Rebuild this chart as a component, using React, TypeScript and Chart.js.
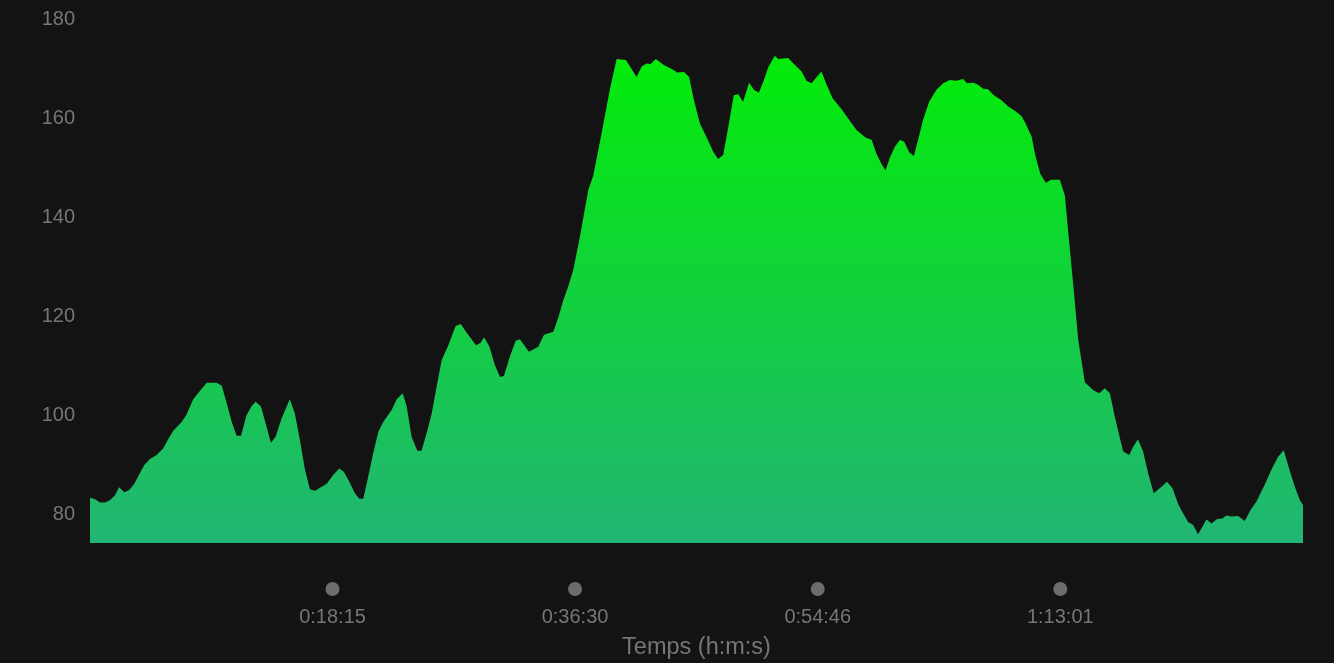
import React, { useEffect, useRef } from "react";
import { Chart, registerables } from "chart.js";

Chart.register(...registerables);

// elapsed time in seconds
const timeSec: number[] = [
  0, 23, 45, 68, 90, 113, 131, 155, 176, 200, 221, 245, 271, 301, 331, 353, 376, 414, 437, 466,
  497, 527, 572, 595, 617, 640, 662, 682, 707, 730, 748, 772, 795, 817, 838, 865, 902, 925, 948, 971,
  993, 1016, 1046, 1069, 1098, 1125, 1147, 1171, 1196, 1216, 1234, 1256, 1279, 1302, 1324, 1362, 1385, 1412, 1430, 1452,
  1478, 1497, 1520, 1543, 1565, 1588, 1618, 1651, 1674, 1701, 1743, 1764, 1779, 1803, 1828, 1851, 1869, 1896, 1922, 1941,
  1982, 2024, 2050, 2092, 2114, 2137, 2159, 2182, 2212, 2250, 2272, 2310, 2347, 2378, 2420, 2468, 2491, 2513, 2531, 2555,
  2591, 2631, 2651, 2682, 2705, 2727, 2754, 2784, 2814, 2836, 2859, 2882, 2907, 2927, 2949, 2976, 2998, 3020, 3043, 3062,
  3092, 3107, 3152, 3183, 3213, 3235, 3258, 3281, 3303, 3326, 3353, 3393, 3428, 3461, 3503, 3529, 3551, 3574, 3592, 3611,
  3634, 3657, 3676, 3699, 3720, 3739, 3762, 3789, 3822, 3852, 3882, 3913, 3942, 3960, 3988, 4010, 4033, 4055, 4081, 4116,
  4146, 4171, 4206, 4221, 4252, 4268, 4291, 4316, 4339, 4379, 4402, 4417, 4439, 4462, 4492, 4530, 4557, 4582, 4605, 4627,
  4665, 4692, 4710, 4732, 4755, 4778, 4803, 4838, 4863, 4888, 4913, 4936, 4958, 4981, 5003, 5023, 5041, 5064, 5089, 5113,
  5131, 5154, 5184, 5214, 5240, 5267, 5304, 5335, 5364, 5390, 5414, 5440, 5463, 5477,
];

// heart rate (bpm)
const heartRate: number[] = [
  83.3, 83.0, 82.3, 82.3, 82.8, 83.8, 85.4, 84.4, 84.8, 86.1, 87.9, 89.9, 91.1, 91.9, 93.3, 95.1, 96.8, 98.6, 100.2, 103.2,
  104.9, 106.5, 106.5, 105.9, 102.4, 98.6, 95.8, 95.8, 100.0, 101.8, 102.7, 101.7, 98.0, 94.4, 95.6, 99.3, 103.2, 100.3, 94.9, 88.9,
  85.0, 84.7, 85.5, 86.1, 87.9, 89.2, 88.5, 86.5, 84.2, 83.1, 83.1, 87.5, 92.3, 96.6, 98.6, 101.0, 103.2, 104.4, 101.7, 95.6,
  92.8, 92.8, 96.3, 100.3, 105.7, 111.1, 114.1, 118.0, 118.4, 116.6, 114.1, 114.6, 115.7, 113.9, 110.1, 107.7, 107.9, 111.8, 115.0, 115.3,
  112.8, 113.8, 116.2, 116.8, 119.6, 123.2, 125.9, 129.3, 136.0, 145.5, 148.3, 156.9, 165.7, 171.9, 171.7, 168.3, 170.4, 171.0, 170.9, 171.9,
  170.7, 169.8, 169.2, 169.3, 168.3, 163.6, 158.9, 156.1, 153.2, 151.7, 152.5, 158.2, 164.6, 164.8, 163.3, 167.1, 165.7, 165.1, 167.7, 170.2,
  172.6, 171.9, 172.1, 170.7, 169.4, 167.5, 167.0, 168.3, 169.4, 166.7, 164.0, 161.8, 159.6, 157.6, 156.0, 155.6, 152.8, 150.7, 149.4, 151.9,
  154.2, 155.6, 155.2, 153.1, 152.3, 155.6, 159.7, 163.3, 165.7, 167.0, 167.7, 167.5, 167.9, 167.0, 167.1, 166.7, 165.9, 165.8, 164.6, 163.6,
  162.3, 161.6, 160.4, 159.2, 156.2, 152.5, 148.7, 146.9, 147.5, 147.5, 144.3, 136.9, 126.6, 115.2, 106.6, 105.0, 104.4, 105.4, 104.4, 99.7,
  92.6, 91.9, 93.6, 95.1, 92.6, 88.2, 84.2, 85.5, 86.5, 85.2, 82.0, 80.1, 78.4, 77.8, 75.9, 77.4, 78.9, 78.1, 79.0, 79.1,
  79.7, 79.5, 79.6, 78.6, 80.8, 82.5, 85.9, 89.0, 91.5, 92.9, 89.2, 85.5, 82.8, 81.8,
];

const xTickSeconds: number[] = [1095, 2190, 3286, 4381];
const yTickValues: number[] = [80, 100, 120, 140, 160, 180];
const xTitle = "Temps (h:m:s)";

const FONT = "'Liberation Sans', Arial, Helvetica, sans-serif";
const TEXT = "#767676";
const DOT = "#6c6c6c";

function fmtTime(s: number): string {
  const h = Math.floor(s / 3600);
  const m = Math.floor((s % 3600) / 60);
  const sec = Math.round(s % 60);
  return `${h}:${String(m).padStart(2, "0")}:${String(sec).padStart(2, "0")}`;
}

const dotPlugin = {
  id: "tickDots",
  afterDraw(chart: any) {
    const xs = chart.scales.x;
    const c = chart.ctx;
    c.save();
    c.fillStyle = DOT;
    for (const t of xs.ticks) {
      const px = xs.getPixelForValue(t.value);
      c.beginPath();
      c.arc(px, chart.chartArea.bottom + 46, 7, 0, Math.PI * 2);
      c.fill();
    }
    c.restore();
  },
};

export default function App() {
  const ref = useRef<HTMLCanvasElement | null>(null);
  useEffect(() => {
    if (!ref.current) return;
    const chart = new Chart(ref.current, {
      type: "line",
      data: {
        datasets: [
          {
            data: timeSec.map((t, i) => ({ x: t, y: heartRate[i] })),
            fill: "start",
            borderWidth: 0,
            borderColor: "rgba(0,0,0,0)",
            pointRadius: 0,
            tension: 0,
            backgroundColor: (ctx: any) => {
              const { chart } = ctx;
              const area = chart.chartArea;
              if (!area) return "#10cc40";
              const g = chart.ctx.createLinearGradient(0, area.top, 0, area.bottom);
              g.addColorStop(0, "#00f000");
              g.addColorStop(1, "#22b574");
              return g;
            },
          },
        ],
      },
      options: {
        animation: false,
        responsive: true,
        maintainAspectRatio: false,
        layout: { padding: { top: 19, right: 31, left: 0, bottom: 0 } },
        plugins: { legend: { display: false }, tooltip: { enabled: false } },
        scales: {
          x: {
            type: "linear",
            min: 0,
            max: 5477,
            grid: { display: false, drawTicks: false },
            border: { display: false },
            afterBuildTicks: (scale: any) => {
              scale.ticks = xTickSeconds.map((v) => ({ value: v }));
            },
            afterFit: (scale: any) => {
              scale.height = 120;
              scale.paddingLeft = 0;
              scale.paddingRight = 0;
            },
            ticks: {
              color: TEXT,
              font: { family: FONT, size: 20 },
              padding: 62,
              maxRotation: 0,
              callback: (v: any) => fmtTime(Number(v)),
            },
            title: {
              display: true,
              text: xTitle,
              color: TEXT,
              font: { family: FONT, size: 23.5 },
              padding: { top: 0, bottom: 1 },
            },
          },
          y: {
            min: 74.14,
            max: 180,
            grid: { display: false, drawTicks: false },
            border: { display: false },
            afterBuildTicks: (scale: any) => {
              scale.ticks = yTickValues.map((v) => ({ value: v }));
            },
            afterFit: (scale: any) => {
              scale.width = 90;
              scale.paddingTop = 0;
              scale.paddingBottom = 0;
            },
            ticks: {
              color: TEXT,
              font: { family: FONT, size: 20 },
              padding: 15,
            },
          },
        },
      },
      plugins: [dotPlugin],
    });
    return () => chart.destroy();
  }, []);

  return (
    <div
      style={{
        position: "fixed",
        left: 0,
        top: 0,
        width: 1334,
        height: 663,
        background: "#131313",
      }}
    >
      <canvas ref={ref} />
    </div>
  );
}
